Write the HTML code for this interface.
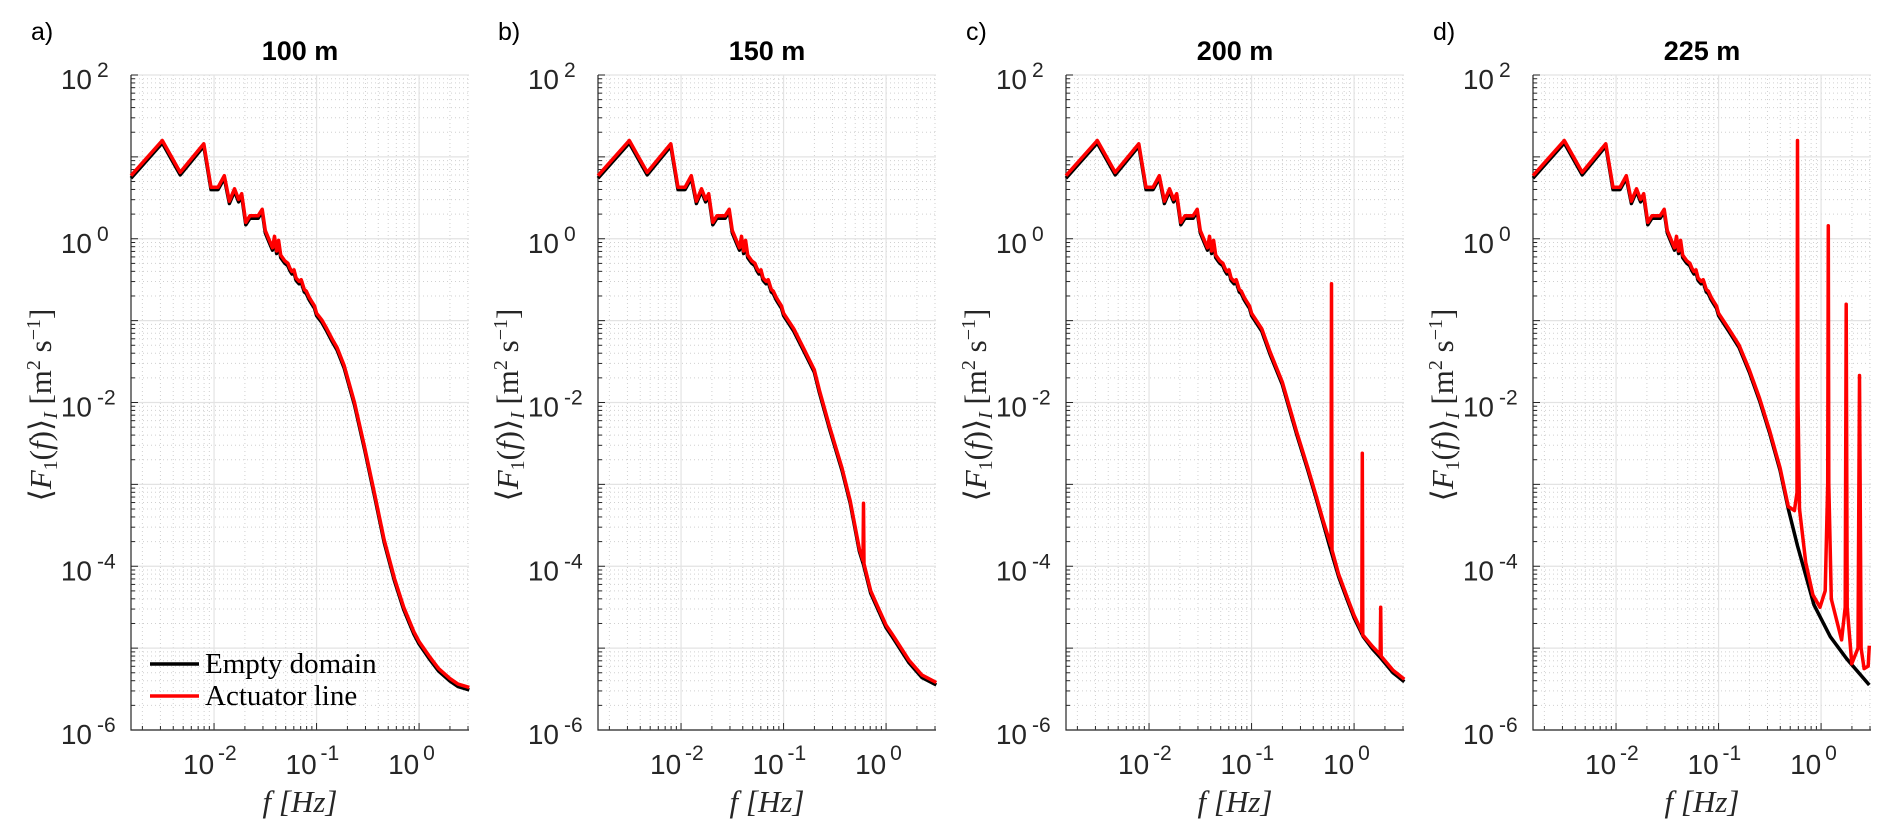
<!DOCTYPE html>
<html><head><meta charset="utf-8">
<style>
html,body{margin:0;padding:0;background:#fff;}
svg{display:block;}
</style></head>
<body>
<svg id="fig" width="1892" height="837" viewBox="0 0 1892 837" xmlns="http://www.w3.org/2000/svg"></svg>
<script>
// ---- data (log10 f, log10 F) ----
const panelTitles = ["100 m","150 m","200 m","225 m"];
const panelLetters = ["a)","b)","c)","d)"];
const yTickExps = [2,0,-2,-4,-6];
const xTickExps = [-2,-1,0];
const baseLogF = [-2.81,-2.505,-2.33,-2.10,-2.03,-1.96,-1.90,-1.85,-1.80,-1.76,-1.73,-1.69,-1.65,-1.57,-1.53,-1.50,-1.45,-1.43,-1.41,-1.39,-1.37,-1.35,-1.31,-1.28,-1.26,-1.24,-1.22,-1.20,-1.17,-1.15,-1.12,-1.10,-1.07,-1.05,-1.02,-1.00];
const baseLogY = [0.77,1.20,0.81,1.16,0.63,0.63,0.77,0.46,0.61,0.48,0.55,0.20,0.28,0.28,0.36,0.10,-0.05,-0.11,0.03,-0.15,-0.02,-0.20,-0.27,-0.30,-0.36,-0.40,-0.38,-0.48,-0.52,-0.50,-0.62,-0.64,-0.72,-0.76,-0.82,-0.91];
const tailA_F = [-0.95,-0.90,-0.85,-0.80,-0.73,-0.63,-0.53,-0.43,-0.34,-0.24,-0.15,-0.05,0.00,0.10,0.19,0.30,0.38,0.49];
const tailA_Y = [-0.99,-1.10,-1.22,-1.33,-1.55,-2.00,-2.55,-3.14,-3.68,-4.15,-4.50,-4.80,-4.92,-5.10,-5.25,-5.37,-5.44,-5.48];
const tailB_F = [-0.90,-0.80,-0.70,-0.65,-0.55,-0.43,-0.35,-0.26,-0.22,-0.15,-0.10,0.00,0.06,0.225,0.35,0.49];
const tailB_Y = [-1.10,-1.35,-1.60,-1.85,-2.30,-2.80,-3.20,-3.79,-3.95,-4.30,-4.44,-4.72,-4.83,-5.15,-5.33,-5.42];
const tailC_F = [-0.90,-0.82,-0.70,-0.56,-0.45,-0.37,-0.30,-0.24,-0.15,-0.07,0.00,0.09,0.18,0.26,0.38,0.49];
const tailC_Y = [-1.10,-1.38,-1.75,-2.36,-2.80,-3.14,-3.45,-3.72,-4.10,-4.37,-4.60,-4.83,-4.98,-5.09,-5.27,-5.38];
const tailD_F = [-0.90,-0.80,-0.70,-0.60,-0.50,-0.40,-0.32,-0.23,-0.07,0.09,0.25,0.47];
const tailD_Y = [-1.10,-1.30,-1.60,-1.95,-2.35,-2.80,-3.27,-3.72,-4.44,-4.83,-5.10,-5.42];
const redA_F = tailA_F;
const redA_Y = tailA_Y;
const redB_F = [-0.90,-0.80,-0.70,-0.65,-0.55,-0.43,-0.35,-0.26,-0.225,-0.22,-0.215,-0.15,-0.10,0.00,0.06,0.225,0.35,0.49];
const redB_Y = [-1.10,-1.35,-1.60,-1.85,-2.30,-2.80,-3.20,-3.79,-3.93,-3.23,-3.97,-4.30,-4.44,-4.72,-4.83,-5.15,-5.33,-5.42];
const redC_F = [-0.90,-0.82,-0.70,-0.56,-0.45,-0.37,-0.30,-0.225,-0.22,-0.215,-0.15,-0.07,0.00,0.075,0.08,0.085,0.18,0.255,0.26,0.265,0.38,0.49];
const redC_Y = [-1.10,-1.38,-1.75,-2.36,-2.80,-3.14,-3.45,-3.75,-0.55,-3.80,-4.10,-4.37,-4.60,-4.80,-2.62,-4.84,-4.98,-5.08,-4.50,-5.10,-5.27,-5.38];
const redD_F = [-0.90,-0.80,-0.70,-0.60,-0.50,-0.40,-0.32,-0.26,-0.235,-0.23,-0.225,-0.21,-0.15,-0.08,-0.01,0.04,0.065,0.07,0.075,0.10,0.20,0.235,0.245,0.255,0.30,0.36,0.375,0.39,0.42,0.46,0.47];
const redD_Y = [-1.10,-1.30,-1.60,-1.95,-2.35,-2.80,-3.27,-3.32,-3.10,1.20,-2.00,-3.30,-3.95,-4.35,-4.50,-4.30,-3.00,0.16,-3.00,-4.40,-4.90,-4.50,-0.80,-4.50,-5.19,-5.00,-1.67,-5.00,-5.25,-5.22,-4.97];

const blackTails = [[tailA_F,tailA_Y],[tailB_F,tailB_Y],[tailC_F,tailC_Y],[tailD_F,tailD_Y]];
const redTails = [[redA_F,redA_Y],[redB_F,redB_Y],[redC_F,redC_Y],[redD_F,redD_Y]];

const NS = "http://www.w3.org/2000/svg";
const svg = document.getElementById('fig');
const lefts = [131,598,1066,1533];
const W = 338, TOP = 75, BOT = 730;
const XMIN = -2.81, XMAX = 0.487, YMIN = -6, YMAX = 2;
function mk(tag, attrs, parent){ const e=document.createElementNS(NS,tag); for(const k in attrs) e.setAttribute(k,attrs[k]); (parent||svg).appendChild(e); return e; }

lefts.forEach((L,p)=>{
  const xs = v => L + (v - XMIN)/(XMAX-XMIN)*W;
  const ys = v => TOP + (YMAX - v)/(YMAX-YMIN)*(BOT-TOP);
  const g = mk('g',{});
  
  
  for(let d=-3; d<=0; d++) for(let m=2;m<=9;m++){ const v=d+Math.log10(m); if(v<XMIN||v>XMAX) continue;
    const l=mk('line',{x1:xs(v),x2:xs(v),y1:TOP,y2:BOT,stroke:'#d0d0d0','stroke-width':1,'stroke-dasharray':'1 3'},g);
     
    mk('line',{x1:xs(v),x2:xs(v),y1:BOT,y2:BOT-4,stroke:'#262626','stroke-width':1},g);
  }
  for(let d=-6; d<2; d++) for(let m=2;m<=9;m++){ const v=d+Math.log10(m);
    const l=mk('line',{x1:L,x2:L+W,y1:ys(v),y2:ys(v),stroke:'#d0d0d0','stroke-width':1,'stroke-dasharray':'1 3'},g);
     
    mk('line',{x1:L,x2:L+4,y1:ys(v),y2:ys(v),stroke:'#262626','stroke-width':1},g);
  }
  for(let d=-2; d<=0; d++){ const l=mk('line',{x1:xs(d),x2:xs(d),y1:TOP,y2:BOT,stroke:'#e3e3e3','stroke-width':1.2},g);
     
    mk('line',{x1:xs(d),x2:xs(d),y1:BOT,y2:BOT-7,stroke:'#262626','stroke-width':1},g);}
  for(let d=-6; d<=2; d++){ const l=mk('line',{x1:L,x2:L+W,y1:ys(d),y2:ys(d),stroke:'#e3e3e3','stroke-width':1.2},g);
     
    mk('line',{x1:L,x2:L+7,y1:ys(d),y2:ys(d),stroke:'#262626','stroke-width':1},g);}
  const ax=mk('path',{d:`M${L} ${TOP} V${BOT} H${L+W}`,fill:'none',stroke:'#262626','stroke-width':1.2},g);
   
  yTickExps.forEach(e=>{
    const t=mk('text',{x:L-39,y:ys(e)+14,'text-anchor':'end','font-family':'Liberation Sans, sans-serif','font-size':28,fill:'#262626'},g);
     
    t.textContent='10';
    const s=mk('text',{x:L-34,y:ys(e)+2,'font-family':'Liberation Sans, sans-serif','font-size':21,fill:'#262626'},g);
     
    s.textContent=String(e);
  });
  xTickExps.forEach(e=>{
    const t=mk('text',{x:xs(e)-31,y:774,'font-family':'Liberation Sans, sans-serif','font-size':28,fill:'#262626'},g);
     
    t.textContent='10';
    const s=mk('text',{x:xs(e)+4,y:760,'font-family':'Liberation Sans, sans-serif','font-size':21,fill:'#262626'},g);
     
    s.textContent=String(e);
  });
  const xl=mk('text',{x:L+W/2,y:812,'text-anchor':'middle','font-family':'Liberation Serif, serif','font-size':31,'font-style':'italic',fill:'#262626','xml:space':'preserve'},g);
   
  xl.textContent='f  [Hz]';
  const yl=mk('text',{x:0,y:0,'text-anchor':'middle','font-family':'Liberation Serif, serif','font-size':31,fill:'#262626',transform:`translate(${L-80},405) rotate(-90)`},g);
   
  yl.innerHTML='⟨<tspan font-style="italic">F</tspan><tspan font-size="20" dy="6">1</tspan><tspan dy="-6">(</tspan><tspan font-style="italic">f</tspan>)⟩<tspan font-size="20" font-style="italic" dy="6">I</tspan><tspan dy="-6"> [m</tspan><tspan font-size="20" dy="-11">2</tspan><tspan dy="11"> s</tspan><tspan font-size="20" dy="-11">−1</tspan><tspan dy="11">]</tspan>';
  const tt=mk('text',{x:L+W/2,y:60,'text-anchor':'middle','font-family':'Liberation Sans, sans-serif','font-size':27,'font-weight':'bold',fill:'#000'},g);
   
  tt.textContent=panelTitles[p];
  const lt=mk('text',{x:L-100,y:40,'font-family':'Liberation Sans, sans-serif','font-size':25,fill:'#000'},g);
   
  lt.textContent=panelLetters[p];
  const line=(F,Y,col,name)=>{
    let d=''; for(let i=0;i<F.length;i++) d+=(i?'L':'M')+xs(F[i]).toFixed(1)+' '+ys(Y[i]).toFixed(1);
    const pth=mk('path',{d:d,fill:'none',stroke:col,'stroke-width':3.5,'stroke-linejoin':'round'},g);
     
  };
  line(baseLogF.concat(blackTails[p][0]), baseLogY.map(v=>v-0.03).concat(blackTails[p][1].map(v=>v-0.03)), '#000','empty-domain-line');
  line(baseLogF.concat(redTails[p][0]), baseLogY.concat(redTails[p][1]), '#ff0000','actuator-line-line');
});
const lg=mk('g',{});
 
[['Empty domain','#000',664],['Actuator line','#ff0000',696]].forEach(r=>{
  const e=mk('g',{},lg);
   
  mk('line',{x1:150,x2:199,y1:r[2],y2:r[2],stroke:r[1],'stroke-width':3.5},e);
  const t=mk('text',{x:205,y:r[2]+9,'font-family':'Liberation Serif, serif','font-size':29,fill:'#000'},e);
  t.textContent=r[0];
});
</script>
</body></html>
